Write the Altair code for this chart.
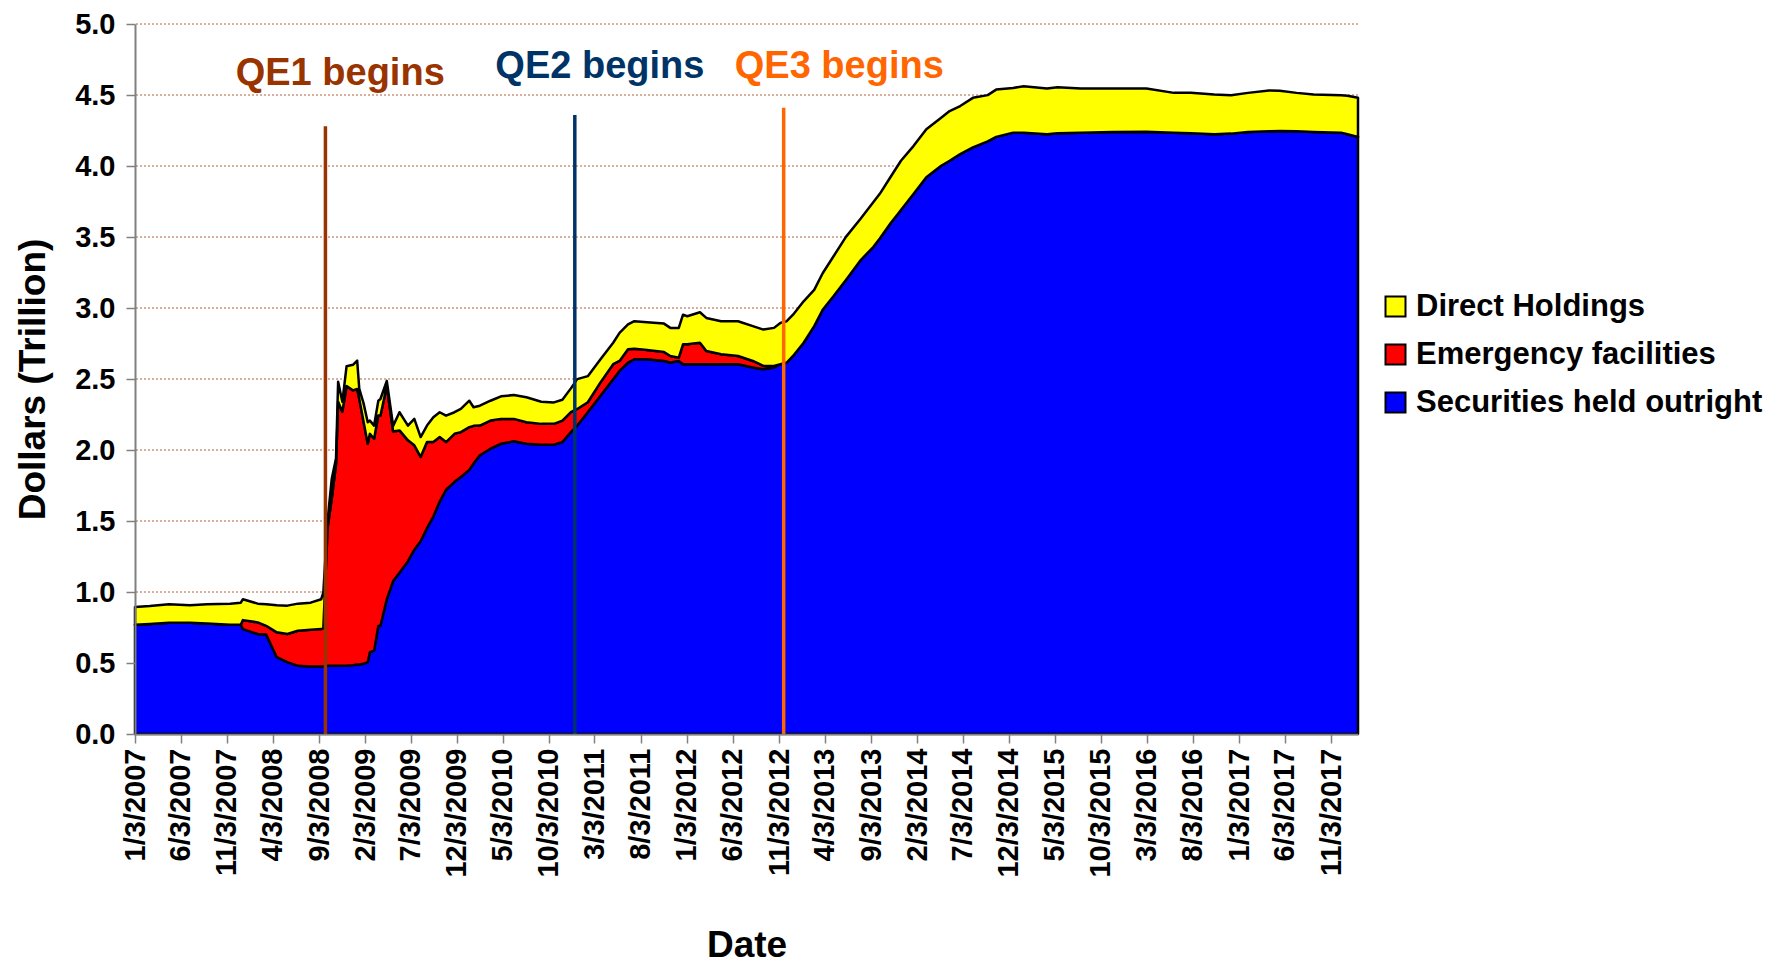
import altair as alt
import pandas as pd

# ---------------- data ----------------
dates = [
    "2007-01-03", "2007-02-21", "2007-04-25", "2007-07-04", "2007-08-29", "2007-11-14",
    "2007-12-19", "2007-12-26", "2008-02-13", "2008-03-12", "2008-04-16", "2008-05-21",
    "2008-06-25", "2008-08-06", "2008-09-10", "2008-09-17", "2008-10-01", "2008-10-15",
    "2008-10-29", "2008-11-05", "2008-11-19", "2008-12-03", "2008-12-24", "2009-01-07",
    "2009-01-14", "2009-01-28", "2009-02-11", "2009-02-18", "2009-03-04", "2009-03-18",
    "2009-03-25", "2009-04-15", "2009-05-06", "2009-05-27", "2009-06-24", "2009-07-15",
    "2009-08-05", "2009-08-26", "2009-09-16", "2009-10-07", "2009-10-28", "2009-11-25",
    "2009-12-16", "2010-01-13", "2010-01-27", "2010-02-17", "2010-03-24", "2010-04-28",
    "2010-06-09", "2010-07-21", "2010-09-08", "2010-10-20", "2010-11-17", "2010-12-15",
    "2011-01-05", "2011-02-09", "2011-03-23", "2011-05-04", "2011-05-25", "2011-06-22",
    "2011-07-13", "2011-08-24", "2011-10-19", "2011-11-09", "2011-12-07", "2011-12-21",
    "2012-01-04", "2012-02-15", "2012-03-07", "2012-04-25", "2012-06-20", "2012-08-08",
    "2012-09-12", "2012-10-17", "2012-11-07", "2012-11-28", "2012-12-19", "2013-01-23",
    "2013-02-27", "2013-03-27", "2013-05-01", "2013-06-12", "2013-07-31", "2013-09-11",
    "2013-10-02", "2013-11-06", "2013-12-11", "2014-01-22", "2014-03-05", "2014-04-23",
    "2014-05-21", "2014-06-25", "2014-08-06", "2014-09-24", "2014-10-22", "2014-12-17",
    "2015-01-21", "2015-04-08", "2015-05-13", "2015-07-29", "2015-11-11", "2016-03-02",
    "2016-06-01", "2016-07-27", "2016-10-12", "2016-12-07", "2017-02-01", "2017-04-12",
    "2017-05-17", "2017-07-12", "2017-09-06", "2017-12-06", "2017-12-27", "2018-01-31",
]

securities = [
    0.769, 0.774, 0.783, 0.783, 0.779, 0.769, 0.769, 0.739, 0.704, 0.700, 0.541, 0.506,
    0.480, 0.476, 0.476, 0.476, 0.480, 0.480, 0.480, 0.480, 0.480, 0.480, 0.485, 0.490,
    0.490, 0.494, 0.506, 0.576, 0.587, 0.760, 0.762, 0.949, 1.077, 1.135, 1.217, 1.298,
    1.357, 1.450, 1.531, 1.637, 1.720, 1.776, 1.810, 1.860, 1.905, 1.963, 2.009, 2.044,
    2.061, 2.044, 2.037, 2.037, 2.056, 2.126, 2.172, 2.266, 2.382, 2.499, 2.557, 2.615,
    2.639, 2.639, 2.627, 2.616, 2.627, 2.604, 2.604, 2.604, 2.604, 2.604, 2.604, 2.581,
    2.569, 2.581, 2.604, 2.616, 2.662, 2.755, 2.872, 2.988, 3.081, 3.198, 3.338, 3.431,
    3.490, 3.595, 3.690, 3.804, 3.921, 4.002, 4.037, 4.084, 4.131, 4.173, 4.205, 4.235,
    4.235, 4.224, 4.230, 4.235, 4.240, 4.242, 4.235, 4.231, 4.224, 4.228, 4.240, 4.245,
    4.247, 4.245, 4.240, 4.235, 4.224, 4.205,
]

emergency = [
    0.000, 0.000, 0.000, 0.000, 0.000, 0.000, 0.000, 0.063, 0.082, 0.062, 0.175, 0.198,
    0.247, 0.259, 0.263, 0.269, 0.970, 1.180, 1.420, 1.860, 1.790, 1.970, 1.935, 1.940,
    1.870, 1.706, 1.538, 1.538, 1.492, 1.483, 1.480, 1.503, 1.053, 1.003, 0.851, 0.735,
    0.594, 0.606, 0.525, 0.454, 0.336, 0.338, 0.316, 0.301, 0.265, 0.209, 0.198, 0.175,
    0.158, 0.152, 0.147, 0.147, 0.151, 0.140, 0.117, 0.070, 0.094, 0.105, 0.070, 0.094,
    0.074, 0.065, 0.063, 0.046, 0.023, 0.140, 0.140, 0.151, 0.093, 0.070, 0.058, 0.046,
    0.023, 0.011, 0.000, 0.000, 0.000, 0.000, 0.000, 0.000, 0.000, 0.000, 0.000, 0.000,
    0.000, 0.000, 0.000, 0.000, 0.000, 0.000, 0.000, 0.000, 0.000, 0.000, 0.000, 0.000,
    0.000, 0.000, 0.000, 0.000, 0.000, 0.000, 0.000, 0.000, 0.000, 0.000, 0.000, 0.000,
    0.000, 0.000, 0.000, 0.000, 0.000, 0.000,
]

direct = [
    0.126, 0.128, 0.131, 0.124, 0.135, 0.149, 0.156, 0.147, 0.132, 0.152, 0.191, 0.200,
    0.191, 0.190, 0.210, 0.250, 0.050, 0.140, 0.040, 0.140, 0.070, 0.140, 0.180, 0.200,
    0.070, 0.130, 0.152, 0.093, 0.093, 0.104, 0.117, 0.035, 0.040, 0.128, 0.104, 0.186,
    0.140, 0.116, 0.175, 0.175, 0.186, 0.152, 0.163, 0.186, 0.131, 0.140, 0.140, 0.159,
    0.168, 0.175, 0.156, 0.151, 0.147, 0.168, 0.210, 0.184, 0.163, 0.151, 0.198, 0.175,
    0.194, 0.196, 0.200, 0.198, 0.210, 0.209, 0.198, 0.215, 0.233, 0.233, 0.245, 0.245,
    0.256, 0.268, 0.291, 0.291, 0.291, 0.292, 0.256, 0.257, 0.280, 0.303, 0.292, 0.315,
    0.314, 0.326, 0.347, 0.338, 0.338, 0.338, 0.350, 0.338, 0.349, 0.326, 0.333, 0.315,
    0.327, 0.321, 0.325, 0.310, 0.305, 0.303, 0.280, 0.284, 0.280, 0.271, 0.275, 0.287,
    0.283, 0.270, 0.264, 0.264, 0.271, 0.275,
]

series_names = ["Direct Holdings", "Emergency facilities", "Securities held outright"]
series_colors = ["#FFFF00", "#FF0000", "#0000FF"]
stack_rank = {"Securities held outright": 0, "Emergency facilities": 1, "Direct Holdings": 2}

x_tick_labels = [
    "1/3/2007", "6/3/2007", "11/3/2007", "4/3/2008", "9/3/2008", "2/3/2009", "7/3/2009",
    "12/3/2009", "5/3/2010", "10/3/2010", "3/3/2011", "8/3/2011", "1/3/2012", "6/3/2012",
    "11/3/2012", "4/3/2013", "9/3/2013", "2/3/2014", "7/3/2014", "12/3/2014", "5/3/2015",
    "10/3/2015", "3/3/2016", "8/3/2016", "1/3/2017", "6/3/2017", "11/3/2017",
]
y_ticks = [0.0, 0.5, 1.0, 1.5, 2.0, 2.5, 3.0, 3.5, 4.0, 4.5, 5.0]

qe_labels = ["QE1 begins", "QE2 begins", "QE3 begins"]
qe_dates = ["2008-09-24", "2010-12-28", "2012-11-18"]
qe_line_tops = [4.28, 4.36, 4.41]
qe_label_dates = ["2008-11-12", "2011-03-21", "2013-05-21"]
qe_label_values = [4.65, 4.70, 4.70]
qe_colors = ["#993300", "#003366", "#FF6600"]

FONT = "Liberation Sans"

# ---------------- tables built from the arrays ----------------
rows = []
for i, d in enumerate(dates):
    for name, vals in (("Securities held outright", securities),
                       ("Emergency facilities", emergency),
                       ("Direct Holdings", direct)):
        rows.append({"date": d + "T00:00:00", "series": name,
                     "value": vals[i], "rank": stack_rank[name]})
area_df = pd.DataFrame(rows)


def to_dt(s):
    m, d, y = (int(p) for p in s.split("/"))
    return alt.DateTime(year=y, month=m, date=d)


tick_values = [to_dt(s) for s in x_tick_labels]

x_scale = alt.Scale(domain=[alt.DateTime(year=2007, month=1, date=3),
                            alt.DateTime(year=2018, month=1, date=31)], nice=False)
y_scale = alt.Scale(domain=[0, 5], nice=False, zero=True)

x_axis = alt.Axis(
    values=tick_values, format="%-m/%-d/%Y", labelAngle=-90,
    labelFont=FONT, labelFontSize=29, labelFontWeight="bold", labelColor="black",
    labelPadding=5, labelOverlap=False, labelFlush=False, labelBound=False, labelLimit=400,
    tickSize=9, tickColor="#808080", tickWidth=1.5, domainColor="#808080", domainWidth=1.5,
    grid=False, zindex=1,
    title="Date", titleFont=FONT, titleFontSize=37, titleFontWeight="bold",
    titleColor="black", titlePadding=50)

y_axis = alt.Axis(
    values=y_ticks, format=".1f",
    labelFont=FONT, labelFontSize=29, labelFontWeight="bold", labelColor="black",
    labelPadding=11, tickSize=9, tickColor="#808080", tickWidth=1.5,
    domainColor="#808080", domainWidth=2, grid=False, zindex=1,
    title="Dollars (Trillion)", titleFont=FONT, titleFontSize=37,
    titleFontWeight="bold", titleColor="black", titlePadding=22)

areas = alt.Chart(area_df).mark_area(
    stroke="black", strokeWidth=2.5, strokeJoin="round", opacity=1, interpolate="linear"
).encode(
    x=alt.X("date:T", scale=x_scale, axis=x_axis),
    y=alt.Y("value:Q", stack="zero", scale=y_scale, axis=y_axis),
    color=alt.Color("series:N", scale=alt.Scale(domain=series_names, range=series_colors),
                    legend=alt.Legend(
                        orient="none", legendX=1245, legendY=267, title=None,
                        symbolType="square", symbolSize=400, symbolStrokeColor="black",
                        symbolStrokeWidth=2, symbolOpacity=1,
                        labelFont=FONT, labelFontSize=31, labelFontWeight="bold",
                        labelColor="black", labelOffset=5, labelLimit=600, rowPadding=16)),
    order=alt.Order("rank:Q", sort="ascending"),
)

grid = alt.Chart(pd.DataFrame({"g": y_ticks[1:]})).mark_rule(
    color="#B0603A", strokeWidth=1, strokeDash=[2, 2]
).encode(y=alt.Y("g:Q", scale=y_scale, axis=y_axis))

# grid lines beneath the areas, QE markers on top
layers = [grid, areas]
for i in range(len(qe_labels)):
    rule_df = pd.DataFrame({"date": [qe_dates[i] + "T00:00:00"], "y0": [0.0],
                            "y1": [qe_line_tops[i]]})
    layers.append(alt.Chart(rule_df).mark_rule(
        color=qe_colors[i], strokeWidth=3.5
    ).encode(
        x=alt.X("date:T", scale=x_scale, axis=x_axis),
        y=alt.Y("y0:Q", scale=y_scale, axis=y_axis),
        y2="y1:Q",
    ))
    text_df = pd.DataFrame({"date": [qe_label_dates[i] + "T00:00:00"],
                            "v": [qe_label_values[i]], "label": [qe_labels[i]]})
    layers.append(alt.Chart(text_df).mark_text(
        font=FONT, fontSize=38, fontWeight="bold", color=qe_colors[i],
        align="center", baseline="middle"
    ).encode(
        x=alt.X("date:T", scale=x_scale, axis=x_axis),
        y=alt.Y("v:Q", scale=y_scale, axis=y_axis),
        text="label:N",
    ))

chart = alt.layer(*layers).properties(
    width=1223, height=710,
    padding={"left": 127, "top": 16, "right": 424, "bottom": 233},
    autosize=alt.AutoSizeParams(type="none"),
    background="white",
).configure_view(stroke=None)

chart.save("out.html", embed_options={"renderer": "svg", "actions": False})
